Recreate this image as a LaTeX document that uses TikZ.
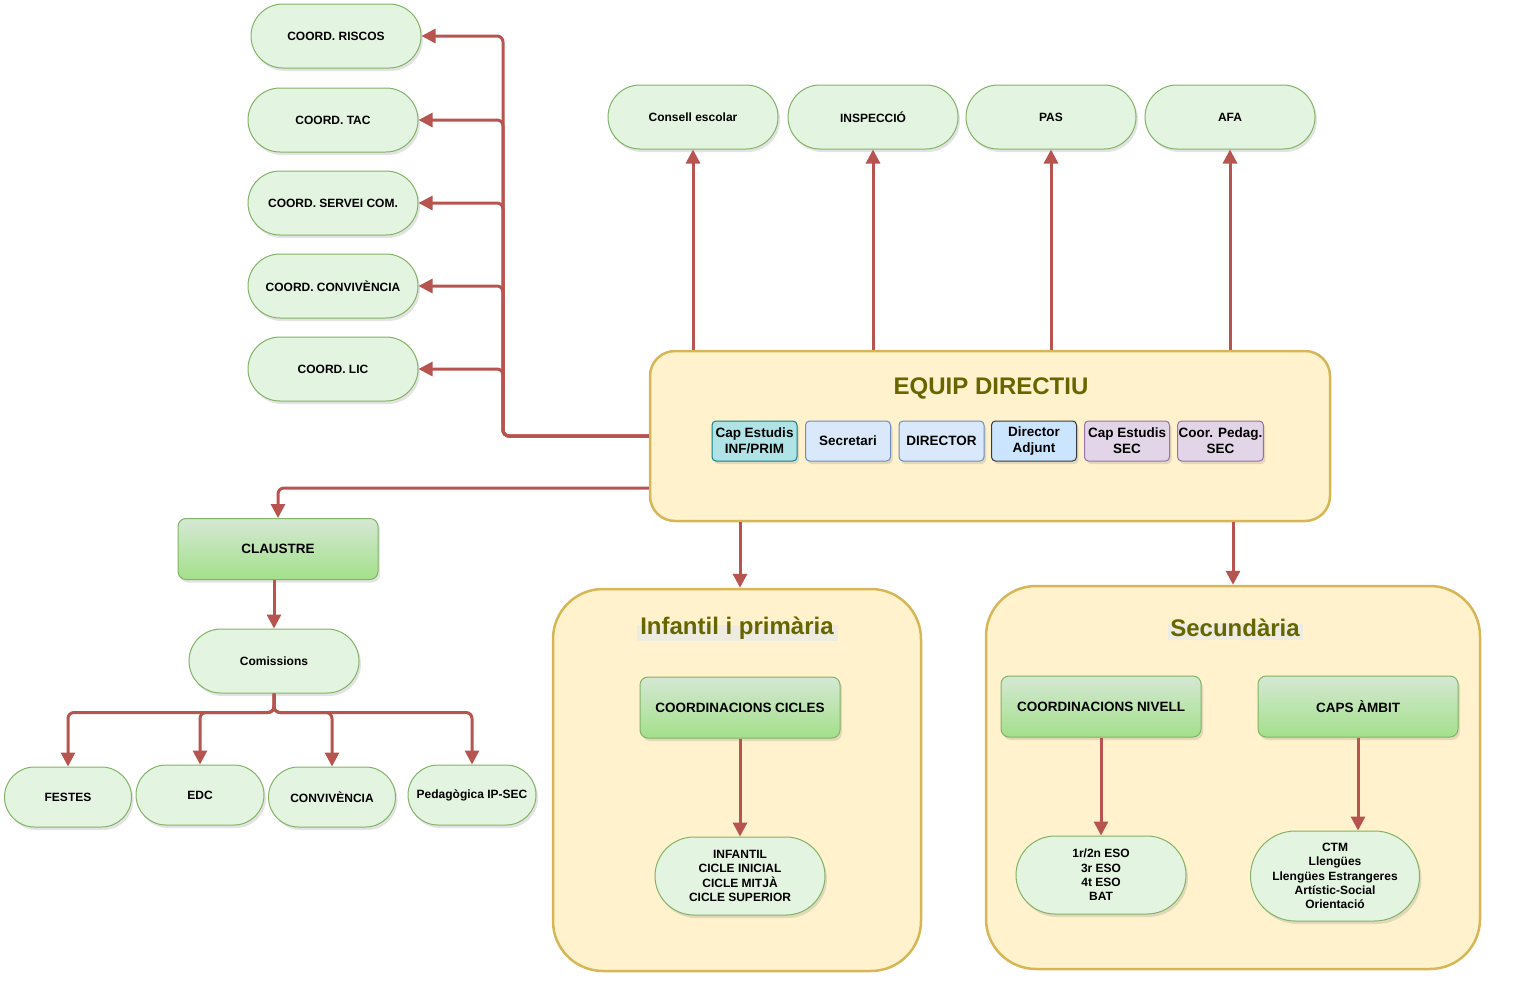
\documentclass[tikz,border=0pt]{standalone}
\usepackage{fontspec}
\setmainfont{Liberation Sans}
\usetikzlibrary{shapes.misc,shadows,arrows.meta,calc}
\definecolor{arrc}{HTML}{B85450}
\definecolor{gfill}{HTML}{E3F4E0}
\definecolor{gdraw}{HTML}{82B366}
\definecolor{gtop}{HTML}{D5E8D4}
\definecolor{gbot}{HTML}{A3E08A}
\definecolor{yfill}{HTML}{FFF2CC}
\definecolor{ydraw}{HTML}{D6B656}
\definecolor{olivec}{HTML}{666600}
\definecolor{bfill}{HTML}{DAE8FC}
\definecolor{bdraw}{HTML}{6C8EBF}
\definecolor{tfill}{HTML}{B0E3E6}
\definecolor{tdraw}{HTML}{0E8088}
\definecolor{pfill}{HTML}{E1D5E7}
\definecolor{pdraw}{HTML}{9673A6}
\definecolor{bbfill}{HTML}{CCE5FF}
\definecolor{bbdraw}{HTML}{36393D}
\definecolor{titlebg}{HTML}{EEEBE0}
\tikzset{
  shad/.style={drop shadow={shadow xshift=2pt,shadow yshift=-3pt,opacity=0.22}},
  pill/.style={rounded rectangle, draw=gdraw, fill=gfill, line width=1pt,
    minimum width=174pt, minimum height=64pt, inner sep=2pt, align=center,
    font=\bfseries\fontsize{12}{14.4}\selectfont, shad},
  gbox/.style={rectangle, rounded corners=8pt, draw=gdraw, line width=1pt,
    top color=gtop, bottom color=gbot, minimum width=200pt, minimum height=61pt,
    font=\bfseries\fontsize{13.5}{16}\selectfont, shad},
  ibox/.style={rectangle, rounded corners=4pt, line width=1pt,
    minimum width=85pt, minimum height=40pt, inner sep=1pt, align=center,
    font=\bfseries\fontsize{13.5}{16}\selectfont, shad},
  contbox/.style={rectangle, draw=ydraw, fill=yfill, line width=2.5pt},
  titletext/.style={text=olivec, font=\bfseries\fontsize{24}{28}\selectfont, inner sep=0pt},
  arr/.style={draw=arrc, line width=3pt, rounded corners=6pt,
    -{Triangle[length=14pt,width=14pt]}}
}
\begin{document}
\begin{tikzpicture}[x=1pt,y=-1pt]
\useasboundingbox (0,0) rectangle (1514,986);
% containers
\node[contbox, rounded corners=50pt, minimum width=368pt, minimum height=382pt] (infc) at (737,780) {};
\node[contbox, rounded corners=50pt, minimum width=494pt, minimum height=383pt] (secc) at (1233,777.5) {};
\node[contbox, rounded corners=25pt, minimum width=680pt, minimum height=170pt] (ed) at (990,436) {};
\fill[titlebg] (637,625) rectangle (838,641);
\fill[titlebg] (1168,624) rectangle (1303,640);
\node[titletext] (edt) at (991,388) {EQUIP DIRECTIU};
\node[titletext] (inft) at (737,628) {Infantil i primària};
\node[titletext] (sect) at (1235,628) {Secundària};
% coordinators
\node[pill] (riscos) at (336,36) {COORD. RISCOS};
\node[pill] (tac) at (333,120) {COORD. TAC};
\node[pill] (servei) at (333,203) {COORD. SERVEI COM.};
\node[pill] (conv) at (333,286) {COORD. CONVIVÈNCIA};
\node[pill] (lic) at (333,369) {COORD. LIC};
% top
\node[pill] (cons) at (693,117) {Consell escolar};
\node[pill] (insp) at (873,117) {INSPECCIÓ};
\node[pill] (pas) at (1051,117) {PAS};
\node[pill] (afa) at (1230,117) {AFA};
% inner boxes
\node[ibox, fill=tfill, draw=tdraw] (ce1) at (754.5,441) {Cap Estudis\\INF/PRIM};
\node[ibox, fill=bfill, draw=bdraw] (secr) at (848,441) {Secretari};
\node[ibox, fill=bfill, draw=bdraw] (dir) at (941.5,441) {DIRECTOR};
\node[ibox, fill=bbfill, draw=bbdraw] (dira) at (1034,441) {Director\\Adjunt};
\node[ibox, fill=pfill, draw=pdraw] (ce2) at (1127,441) {Cap Estudis\\SEC};
\node[ibox, fill=pfill, draw=pdraw] (cped) at (1220.5,441) {Coor. Pedag.\\SEC};
% claustre
\node[gbox] (cla) at (278,549) {CLAUSTRE};
\node[pill] (com) at (274,661) {Comissions};
\node[pill, minimum width=131pt, minimum height=60pt] (festes) at (68,797) {FESTES};
\node[pill, minimum width=132pt, minimum height=60pt] (edc) at (200,795) {EDC};
\node[pill, minimum width=131pt, minimum height=60pt] (convi) at (332,797) {CONVIVÈNCIA};
\node[pill, minimum width=132pt, minimum height=60pt] (ped) at (472,795) {Pedagògica IP-SEC};
% infantil
\node[gbox] (ccic) at (740,707.5) {COORDINACIONS CICLES};
\node[pill, minimum height=78pt] (inf) at (740,876) {INFANTIL\\CICLE INICIAL\\CICLE MITJÀ\\CICLE SUPERIOR};
% secundaria
\node[gbox] (cniv) at (1101,706.5) {COORDINACIONS NIVELL};
\node[gbox] (caps) at (1358,706.5) {CAPS ÀMBIT};
\node[pill, minimum height=78pt] (eso) at (1101,875) {1r/2n ESO\\3r ESO\\4t ESO\\BAT};
\node[pill, minimum width=173pt, minimum height=90pt] (ctm) at (1335,876) {CTM\\Llengües\\Llengües Estrangeres\\Artístic-Social\\Orientació};
% connectors
\coordinate (bus) at (503,436);
\foreach \n in {riscos,tac,servei,conv,lic}
  \draw[arr] (ed.west) -- (bus) |- (\n.east);
\draw[arr] ($(ed.west)+(0,52)$) -| (cla.north);
\draw[arr] (com.north |- cla.south) -- (com.north);
\foreach \n in {festes,edc,convi,ped}
  \draw[arr] (com.south) -- ++(0,19) -| (\n.north);
\foreach \n in {cons,insp,pas,afa}
  \draw[arr] (ed.north -| \n.south) -- (\n.south);
\draw[arr] (ed.south -| ccic.north) -- (infc.north -| ccic.north);
\draw[arr] (ed.south -| secc.north) -- (secc.north);
\draw[arr] (ccic.south) -- (inf.north);
\draw[arr] (cniv.south) -- (eso.north);
\draw[arr] (caps.south) -- (caps.south |- ctm.north);
\end{tikzpicture}
\end{document}
